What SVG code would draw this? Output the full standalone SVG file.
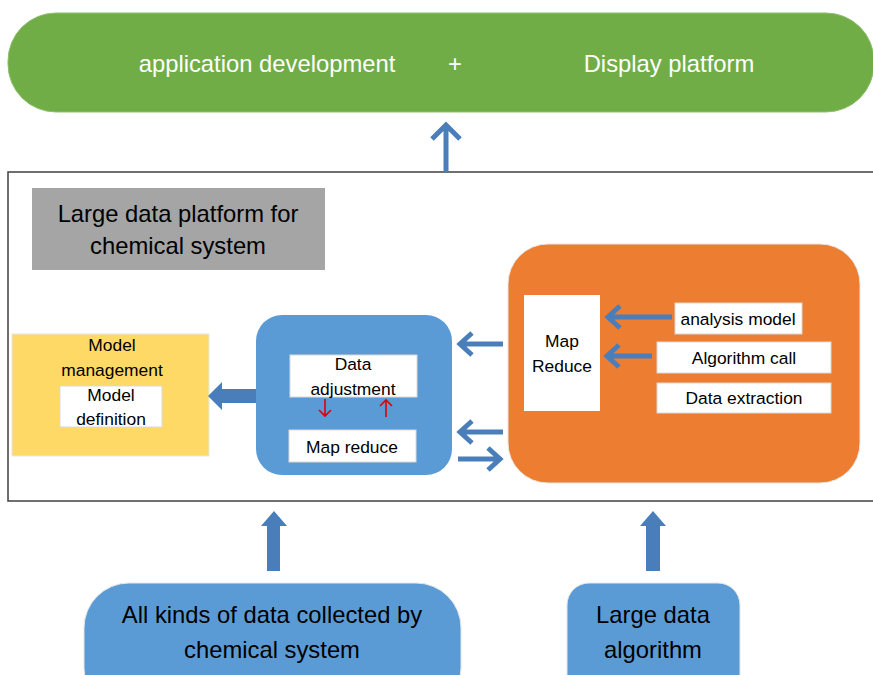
<svg xmlns="http://www.w3.org/2000/svg" width="873" height="675" viewBox="0 0 873 675">
<style>
text{font-family:"Liberation Sans",Arial,sans-serif;text-anchor:middle;fill:#000}
.big{font-size:23.8px}
.sm{font-size:17.4px}
.wt{fill:#fff}
.box{fill:#fff;stroke:#d9d9d9;stroke-width:1}
.arr{fill:none;stroke:#4a7ebb;stroke-width:5}
.red{fill:none;stroke:#e00000;stroke-width:1.6}
.blk{fill:#4a7ebb}
</style>
<rect width="873" height="675" fill="#fff"/>
<g id="top">
<rect x="8" y="13" width="866" height="99" rx="48" ry="48" fill="#70ad47" stroke="#8fbf6e" stroke-width="1"/>
<text class="big wt" x="267" y="72">application development</text>
<text class="big wt" x="455" y="72">+</text>
<text class="big wt" x="669" y="72">Display platform</text>
</g>
<g id="frame">
<rect x="8" y="172" width="880" height="329" fill="none" stroke="#404040" stroke-width="1.5"/>
</g>
<g id="title">
<rect x="32" y="188" width="293" height="82" fill="#a5a5a5"/>
<text class="big" x="178" y="222">Large data platform for</text>
<text class="big" x="178" y="254">chemical system</text>
</g>
<g id="model">
<rect x="12" y="334" width="197" height="122" fill="#ffd966" stroke="#e6e6e6" stroke-width="1"/>
<text class="sm" x="112" y="351">Model</text>
<text class="sm" x="112" y="376">management</text>
<rect class="box" x="60" y="386" width="102" height="41"/>
<text class="sm" x="111" y="401">Model</text>
<text class="sm" x="111" y="425">definition</text>
</g>
<g id="mid">
<rect x="256" y="315" width="196" height="160" rx="26" fill="#5b9bd5"/>
<rect class="box" x="290" y="355" width="127" height="42"/>
<text class="sm" x="353" y="370">Data</text>
<text class="sm" x="353" y="395">adjustment</text>
<rect class="box" x="289" y="430" width="127" height="32"/>
<text class="sm" x="352" y="453">Map reduce</text>
</g>
<g id="orange">
<rect x="508" y="244" width="352" height="239" rx="40" fill="#ed7d31" stroke="#e6e6e6" stroke-width="1"/>
<rect x="524" y="295" width="76" height="116" fill="#fff"/>
<text class="sm" x="562" y="347">Map</text>
<text class="sm" x="562" y="372">Reduce</text>
<rect class="box" x="675" y="303" width="127" height="31"/>
<text class="sm" x="738" y="325">analysis model</text>
<rect class="box" x="657" y="342" width="174" height="31"/>
<text class="sm" x="744" y="364">Algorithm call</text>
<rect class="box" x="657" y="383" width="174" height="30"/>
<text class="sm" x="744" y="404">Data extraction</text>
</g>
<g id="src1">
<rect x="84" y="583" width="377" height="130" rx="45" fill="#5b9bd5" stroke="#e6e6e6" stroke-width="1"/>
<text class="big" x="272" y="623">All kinds of data collected by</text>
<text class="big" x="272" y="658">chemical system</text>
</g>
<g id="src2">
<rect x="567" y="583" width="173" height="120" rx="22" fill="#5b9bd5" stroke="#e6e6e6" stroke-width="1"/>
<text class="big" x="653" y="623">Large data</text>
<text class="big" x="653" y="658">algorithm</text>
</g>
<g id="connectors">
<path class="arr" d="M446 172V125M432 139L446 125L460 139"/>
<path class="arr" d="M503 344H461M472 333L460 344L472 355"/>
<path class="arr" d="M503 432H461M472 421L460 432L472 443"/>
<path class="arr" d="M458 459H499M488 448L500 459L488 470"/>
<path class="arr" d="M672 317H609M620 306L608 317L620 328"/>
<path class="arr" d="M652 356H608M619 345L607 356L619 367"/>
<path class="red" d="M325 399V416M319 410L325 416L331 410"/>
<path class="red" d="M386 417V400M380 406L386 400L392 406"/>
<polygon class="blk" points="208,396 222,382 222,389 256,389 256,403 222,403 222,410"/>
<polygon class="blk" points="274,511 287,526 280,526 280,571 267,571 267,526 261,526"/>
<polygon class="blk" points="653,511 666,526 660,526 660,571 646,571 646,526 640,526"/>
</g>
</svg>
